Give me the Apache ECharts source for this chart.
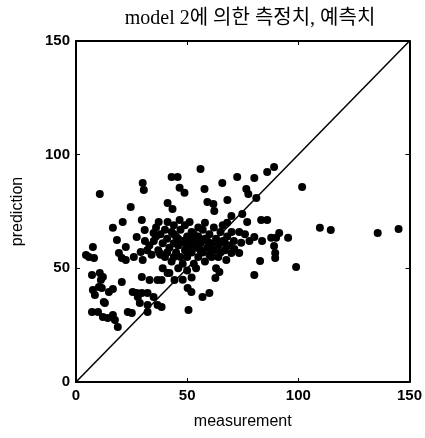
<!DOCTYPE html>
<html><head><meta charset="utf-8">
<script src="https://cdn.jsdelivr.net/npm/echarts@6/dist/echarts.min.js"></script>
<style>html,body{margin:0;padding:0;background:#fff;}#c{width:425px;height:438px;}</style>
</head><body><div id="c"></div>
<script>
const titleText = "model 2에 의한 측정치, 예측치";
const xName = "measurement";
const yName = "prediction";
const axisTicks = [0, 50, 100, 150];
const measurement = [
10.7,30.0,30.5,43.0,45.7,56.0,46.6,48.8,57.8,65.8,72.5,76.6,77.5,80.2,86.0,89.1,101.7,
24.6,41.2,43.4,59.1,61.8,62.2,68.1,69.9,74.8,77.0,81.1,83.3,86.0,109.7,114.6,135.7,145.1,
29.6,37.2,41.2,46.6,51.1,21.0,16.6,30.9,34.9,18.4,27.3,7.6,4.5,8.1,20.6,22.4,
73.4,80.2,83.7,87.8,90.0,91.4,95.4,89.1,89.6,89.6,74.3,71.2,73.4,82.8,99.0,80.2,64.5,62.7,60.0,56.9,67.6,69.9,
7.2,10.7,12.1,20.6,29.6,33.1,36.7,41.2,7.6,11.6,8.5,16.6,25.5,27.3,29.6,32.2,13.0,28.7,36.7,
7.2,9.9,12.1,16.6,17.5,23.3,25.1,50.2,51.9,50.6,38.5,38.5,44.3,37.6,
5.8,11.2,10.3,14.8,19.3,22.4,26.0,29.1,30.0,27.8,34.9,12.5,14.3,32.2,18.8,32.2,
35,37,38,39,40,41,42,43,43,44,45,45,46,47,47,48,48,49,50,50,51,52,52,53,53,54,55,55,56,57,57,58,58,59,60,60,61,62,62,63,64,64,65,66,67,68,69,70,
36,33,34,39,42,46,50,54,44,49,58,66,71,40,31,32,63,48,52,68,76,78,
36,38,41,44,46,51,53,56,59,61,65,67,44,49,55
];
const prediction = [
82.7,87.5,84.5,90.2,90.2,93.7,85.4,83.2,84.9,87.5,90.2,84.9,82.7,89.7,92.4,94.6,85.8,
77.0,78.7,76.1,79.2,78.3,75.2,80.1,73.0,73.9,70.4,80.9,71.3,71.3,67.8,66.9,65.5,67.3,
71.3,70.4,70.4,71.3,70.4,70.4,67.8,66.9,65.5,62.5,63.8,59.4,55.9,54.6,54.6,59.4,
66.0,63.8,62.0,63.4,63.4,65.5,63.4,59.8,56.7,54.6,61.2,58.5,56.7,53.2,50.6,47.1,48.4,45.8,39.2,37.4,53.7,56.7,
47.1,48.0,46.2,44.0,46.2,44.9,44.9,48.0,40.5,41.4,38.3,40.9,39.6,39.2,39.2,39.2,34.8,34.8,33.9,
30.8,30.8,28.6,29.5,27.3,30.8,30.4,41.4,39.6,31.7,33.0,44.9,44.9,56.7,
55.0,44.9,41.8,39.6,56.7,53.7,55.0,57.2,53.7,37.4,37.4,35.2,28.2,30.8,24.2,33.9,
62,58,65,61,55,63,59,66,53,61,57,64,60,55,67,62,52,58,64,55,60,66,57,62,52,59,64,55,61,67,57,63,53,59,65,56,61,68,58,63,55,60,66,62,58,64,60,66,
68,60,56,50,48,50,49,50,69,69,70,69,62,67,62,58,50,45,46,70,65,62,
64,56,57,55,63,63,65,58,62,55,57,61,65,61,68
];
const diagonal = [[0, 0], [150, 150]];

const pts = measurement.map((v, i) => [v, prediction[i]]);
const chart = echarts.init(document.getElementById('c'), null, {renderer: 'canvas'});
const tickFont = {fontFamily: '"Liberation Sans Narrow","Liberation Sans",Arial,sans-serif', fontWeight: 'bold', fontSize: 15, color: '#000'};
const axisCommon = {
  min: axisTicks[0], max: axisTicks[axisTicks.length - 1], interval: 50,
  axisLine: {show: true, onZero: false, lineStyle: {color: '#000', width: 2}},
  axisTick: {show: true, inside: true, length: 4, lineStyle: {color: '#000', width: 1}},
  splitLine: {show: false}
};
chart.setOption({
  animation: false,
  backgroundColor: '#fff',
  title: {
    text: titleText, left: 245, textAlign: 'center', top: 4,
    textStyle: {fontFamily: '"Liberation Serif","Noto Sans CJK KR",serif', fontWeight: 'normal', fontSize: 20, color: '#000'}
  },
  grid: {left: 76, right: 14, top: 41, bottom: 56},
  xAxis: [
    Object.assign({}, axisCommon, {
      type: 'value', position: 'bottom',
      name: xName, nameLocation: 'middle', nameGap: 32,
      nameTextStyle: {fontFamily: '"Liberation Sans",Arial,sans-serif', fontSize: 16, color: '#000'},
      axisLabel: Object.assign({margin: 6}, tickFont)
    }),
    Object.assign({}, axisCommon, {type: 'value', position: 'top', axisLabel: {show: false}})
  ],
  yAxis: [
    Object.assign({}, axisCommon, {
      type: 'value', position: 'left',
      name: yName, nameLocation: 'middle', nameGap: 50,
      nameTextStyle: {fontFamily: '"Liberation Sans",Arial,sans-serif', fontSize: 16, color: '#000'},
      axisLabel: Object.assign({margin: 6}, tickFont)
    }),
    Object.assign({}, axisCommon, {type: 'value', position: 'right', axisLabel: {show: false}})
  ],
  series: [
    {
      type: 'line', data: diagonal, symbol: 'none', silent: true,
      lineStyle: {color: '#000', width: 1.5}, z: 2
    },
    {
      type: 'scatter', data: pts, symbol: 'circle', symbolSize: 8,
      itemStyle: {color: '#000', opacity: 1}, z: 3
    }
  ]
});
</script></body></html>
